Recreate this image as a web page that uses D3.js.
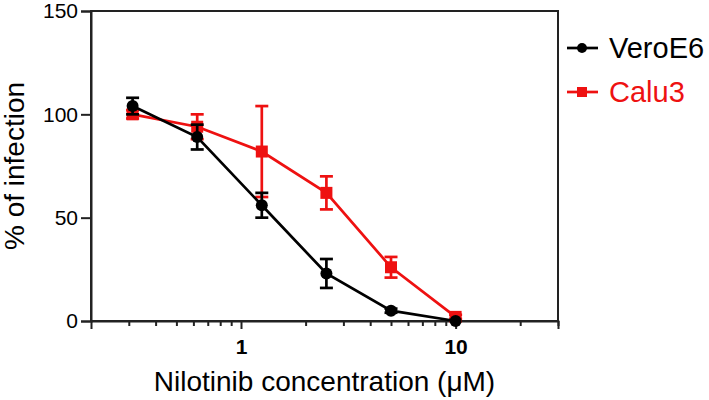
<!DOCTYPE html>
<html><head><meta charset="utf-8">
<script src="https://cdn.jsdelivr.net/npm/d3@7"></script>
<style>
body{margin:0;background:#fff;}
svg{display:block;font-family:"Liberation Sans",Arial,Helvetica,sans-serif;}
</style></head>
<body><svg id="c" width="709" height="400"></svg>
<script>
const concentrations = [0.3125, 0.625, 1.25, 2.5, 5, 10];
const seriesNames = ["VeroE6", "Calu3"];
const veroMean = [104, 89, 56, 23, 5, 0];
const veroErr = [4, 6, 6, 7, 1, 0];
const caluMean = [100, 94, 82, 62, 26, 2];
const caluErr = [2, 6, 22, 8, 5, 1];
const yTicks = [0, 50, 100, 150];
const xMajorTicks = [1, 10];
const xMinorTicks = [0.3,0.4,0.5,0.6,0.7,0.8,0.9,2,3,4,5,6,7,8,9,20,30];

const svg = d3.select("#c");
const L = 91, R = 558, T = 11, B = 321;
const x = d3.scaleLog().domain([0.2, 30]).range([L, R]);
const y = d3.scaleLinear().domain([0, 150]).range([B, T]);

const series = [
  {name: seriesNames[0], mean: veroMean, err: veroErr, color: "#000000", shape: "circle"},
  {name: seriesNames[1], mean: caluMean, err: caluErr, color: "#ee1111", shape: "square"}
];

// frame
svg.append("rect").attr("x", L).attr("y", T).attr("width", R - L).attr("height", B - T)
  .attr("fill", "none").attr("stroke", "#222").attr("stroke-width", 2);

// y axis
const yAx = svg.append("g").attr("transform", `translate(${L},0)`)
  .call(d3.axisLeft(y).tickValues(yTicks).tickSize(10).tickPadding(3));
yAx.select(".domain").attr("stroke", "#222").attr("stroke-width", 2);
yAx.selectAll(".tick line").attr("stroke", "#222").attr("stroke-width", 2);
yAx.selectAll("text").attr("font-size", 21).attr("fill", "#000").attr("font-family", "Liberation Sans, Arial, sans-serif");

// x axis
const xMin = svg.append("g").attr("transform", `translate(0,${B})`)
  .call(d3.axisBottom(x).tickValues(xMinorTicks).tickSize(5).tickFormat(""));
xMin.select(".domain").remove();
xMin.selectAll(".tick line").attr("stroke", "#222").attr("stroke-width", 2);
const xMaj = svg.append("g").attr("transform", `translate(0,${B})`)
  .call(d3.axisBottom(x).tickValues(xMajorTicks).tickSize(8).tickPadding(10).tickFormat(d3.format("d")));
xMaj.select(".domain").attr("stroke", "#222").attr("stroke-width", 2);
xMaj.selectAll(".tick line").attr("stroke", "#222").attr("stroke-width", 2);
xMaj.selectAll("text").attr("font-size", 21).attr("font-weight", "bold").attr("fill", "#000")
  .attr("font-family", "Liberation Sans, Arial, sans-serif");

// axis titles
svg.append("text").attr("x", (L + R) / 2).attr("y", 391).attr("text-anchor", "middle")
  .attr("font-size", 28).attr("fill", "#000").text("Nilotinib concentration (μM)");
svg.append("text").attr("transform", `translate(24,${(T + B) / 2}) rotate(-90)`)
  .attr("text-anchor", "middle").attr("font-size", 28).attr("fill", "#000").text("% of infection");

// data
const line = d3.line().x(d => x(d[0])).y(d => y(d[1]));
const cap = 6.5;
series.slice().reverse().forEach(s => {
  const g = svg.append("g");
  const pts = concentrations.map((c, i) => [c, s.mean[i], s.err[i]]);
  g.append("path").datum(pts).attr("d", line).attr("fill", "none")
    .attr("stroke", s.color).attr("stroke-width", 2.7);
  pts.forEach(p => {
    if (p[2] > 0) {
      const cx = x(p[0]), y1 = y(p[1] + p[2]), y2 = y(p[1] - p[2]);
      g.append("line").attr("x1", cx).attr("x2", cx).attr("y1", y1).attr("y2", y2)
        .attr("stroke", s.color).attr("stroke-width", 2.7);
      [y1, y2].forEach(yy => g.append("line").attr("x1", cx - cap).attr("x2", cx + cap)
        .attr("y1", yy).attr("y2", yy).attr("stroke", s.color).attr("stroke-width", 2.7));
    }
    if (s.shape === "circle") {
      g.append("circle").attr("cx", x(p[0])).attr("cy", y(p[1])).attr("r", 6).attr("fill", s.color);
    } else {
      g.append("rect").attr("x", x(p[0]) - 6).attr("y", y(p[1]) - 6).attr("width", 12).attr("height", 12)
        .attr("fill", s.color);
    }
  });
});

// legend
const legY = [48, 92];
series.forEach((s, i) => {
  const g = svg.append("g").attr("transform", `translate(0,${legY[i]})`);
  g.append("line").attr("x1", 567).attr("x2", 598).attr("y1", 0).attr("y2", 0)
    .attr("stroke", s.color).attr("stroke-width", 2.7);
  if (s.shape === "circle") g.append("circle").attr("cx", 582).attr("cy", 0).attr("r", 5).attr("fill", s.color);
  else g.append("rect").attr("x", 577).attr("y", -5).attr("width", 10).attr("height", 10).attr("fill", s.color);
  g.append("text").attr("x", 609).attr("y", 10).attr("font-size", 29).attr("fill", s.color).text(s.name);
});
</script></body></html>
